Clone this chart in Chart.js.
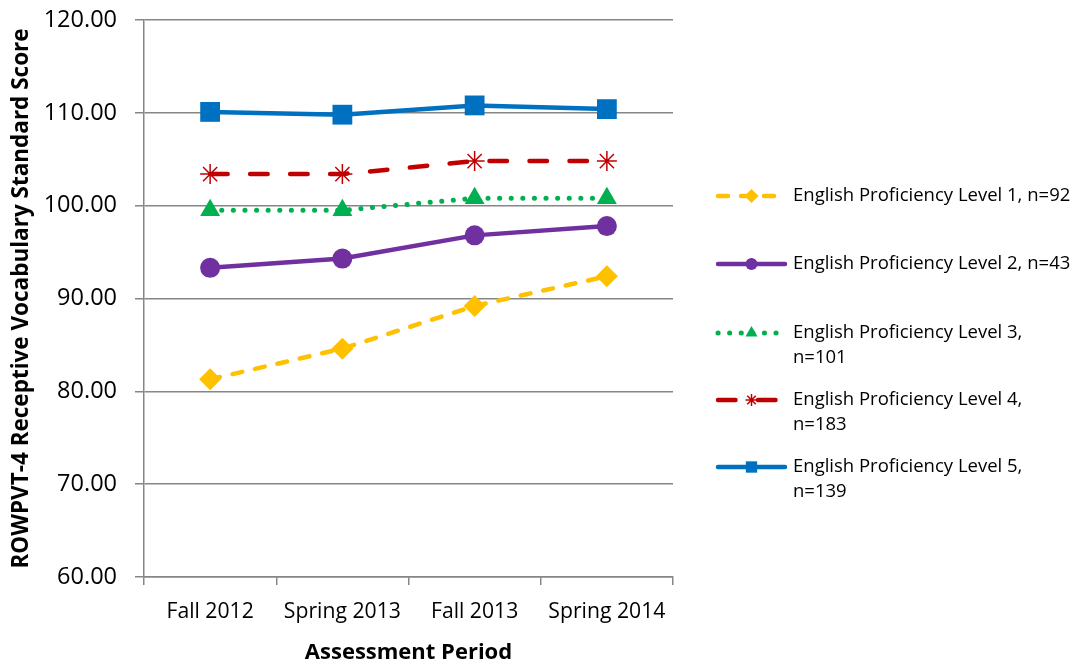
<!DOCTYPE html>
<html>
<head>
<meta charset="utf-8">
<script src="https://cdn.jsdelivr.net/npm/chart.js@4.4.0/dist/chart.umd.min.js"></script>
<style>
  html, body { margin: 0; padding: 0; background: #fff; }
  #wrap { width: 1078px; height: 667px; position: relative; }
</style>
</head>
<body>
<div id="wrap"><canvas id="c" width="1078" height="667"></canvas></div>
<script>
const categories = ["Fall 2012", "Spring 2013", "Fall 2013", "Spring 2014"];
const level1 = [81.3, 84.6, 89.2, 92.4];
const level2 = [93.3, 94.3, 96.8, 97.8];
const level3 = [99.5, 99.5, 100.8, 100.8];
const level4 = [103.4, 103.4, 104.8, 104.8];
const level5 = [110.1, 109.8, 110.8, 110.4];
const seriesNames = [
  "English Proficiency Level 1, n=92",
  "English Proficiency Level 2, n=43",
  "English Proficiency Level 3, n=101",
  "English Proficiency Level 4, n=183",
  "English Proficiency Level 5, n=139"
];
const legendLines = [
  ["English Proficiency Level 1, n=92"],
  ["English Proficiency Level 2, n=43"],
  ["English Proficiency Level 3,", "n=101"],
  ["English Proficiency Level 4,", "n=183"],
  ["English Proficiency Level 5,", "n=139"]
];
const yTitle = "ROWPVT-4 Receptive Vocabulary Standard Score";
const xTitle = "Assessment Period";
const yMin = 60, yMax = 120, yStep = 10;

const FONT = "'Open Sans', Lato, 'Liberation Sans', sans-serif";

const datasets = [
  { label: seriesNames[0], data: level1, borderColor: "#FFC000", backgroundColor: "#FFC000",
    borderWidth: 4.5, borderDash: [10, 13], borderCapStyle: "round", pointStyle: "rectRot", pointRadius: 11,
    pointBorderWidth: 0, legendPointRadius: 7 },
  { label: seriesNames[1], data: level2, borderColor: "#7030A0", backgroundColor: "#7030A0",
    borderWidth: 4.5, borderDash: [], borderCapStyle: "round", pointStyle: "circle", pointRadius: 10,
    pointBorderWidth: 0, legendPointRadius: 6 },
  { label: seriesNames[2], data: level3, borderColor: "#00B050", backgroundColor: "#00B050",
    borderWidth: 5, borderDash: [0.1, 11.5], borderCapStyle: "round", pointStyle: "triangle", pointRadius: 11.5,
    pointBorderWidth: 0, legendPointRadius: 7 },
  { label: seriesNames[3], data: level4, borderColor: "#C00000", backgroundColor: "#C00000",
    borderWidth: 4.5, borderDash: [17.5, 22.5], borderCapStyle: "round", pointStyle: "star", pointRadius: 10,
    pointBorderWidth: 1.5, legendPointRadius: 6 },
  { label: seriesNames[4], data: level5, borderColor: "#0070C0", backgroundColor: "#0070C0",
    borderWidth: 4.5, borderDash: [], borderCapStyle: "round", pointStyle: "rect", pointRadius: 14,
    pointBorderWidth: 0, legendPointRadius: 8 }
].map(d => Object.assign({ fill: false, tension: 0, borderJoinStyle: "round",
  pointBackgroundColor: d.backgroundColor, pointBorderColor: d.borderColor, pointHoverRadius: d.pointRadius }, d));

// Legend on the right, drawn from the datasets
const sideLegend = {
  id: "sideLegend",
  afterDraw(chart) {
    const ctx = chart.ctx;
    const x0 = 716, x1 = 787, tx = 793;
    const rowY = [196, 264, 333, 400, 467];
    const lineGap = 24.5;
    chart.data.datasets.forEach((ds, i) => {
      const y = rowY[i];
      ctx.save();
      ctx.strokeStyle = ds.borderColor;
      ctx.lineWidth = ds.borderWidth;
      ctx.lineCap = "round";
      ctx.setLineDash(ds.borderDash || []);
      ctx.beginPath(); ctx.moveTo(x0 + 2, y); ctx.lineTo(x1 - 2, y); ctx.stroke();
      ctx.restore();
      ctx.save();
      ctx.fillStyle = ds.backgroundColor;
      ctx.strokeStyle = ds.borderColor;
      ctx.lineWidth = ds.pointStyle === "star" ? 1.5 : 0.01;
      Chart.helpers.drawPoint(ctx, { pointStyle: ds.pointStyle, rotation: 0, radius: ds.legendPointRadius,
        borderWidth: ctx.lineWidth }, (x0 + x1) / 2, y);
      ctx.restore();
      ctx.save();
      ctx.fillStyle = "#000";
      ctx.font = "18.5px " + FONT;
      ctx.textBaseline = "middle";
      ctx.textAlign = "left";
      legendLines[i].forEach((t, k) => ctx.fillText(t, tx, y + k * lineGap));
      ctx.restore();
    });
  }
};

new Chart(document.getElementById("c"), {
  type: "line",
  data: { labels: categories, datasets },
  plugins: [sideLegend],
  options: {
    responsive: false,
    animation: false,
    devicePixelRatio: 1,
    layout: { padding: { left: 8, right: 405, top: 20, bottom: 1 } },
    plugins: { legend: { display: false }, tooltip: { enabled: false } },
    scales: {
      x: {
        type: "category",
        offset: true,
        grid: { offset: true, drawOnChartArea: false, drawTicks: true, tickLength: 8, color: "#868686", lineWidth: 1.5 },
        border: { color: "#868686", width: 1.5 },
        ticks: { color: "#000", font: { family: FONT, size: 21.2 }, padding: 14, maxRotation: 0, autoSkip: false },
        title: { display: true, text: xTitle, color: "#000", font: { family: FONT, size: 22, weight: "bold" }, padding: { top: 6, bottom: 0 } },
        afterFit(s) { s.height = 89; s.paddingLeft = 0; s.paddingRight = 0; }
      },
      y: {
        min: yMin, max: yMax,
        grid: { color: "#868686", lineWidth: 1.5, tickLength: 9, drawTicks: true },
        border: { color: "#868686", width: 1.5 },
        ticks: { stepSize: yStep, color: "#000", font: { family: FONT, size: 23.5 }, padding: 18,
          callback: v => Number(v).toFixed(2) },
        title: { display: true, text: yTitle, color: "#000", font: { family: FONT, size: 22.5, weight: "bold" }, padding: { top: 0, bottom: 6 } },
        afterFit(s) { s.width = 136; s.paddingTop = 0; s.paddingBottom = 0; }
      }
    }
  }
});
</script>
</body>
</html>
